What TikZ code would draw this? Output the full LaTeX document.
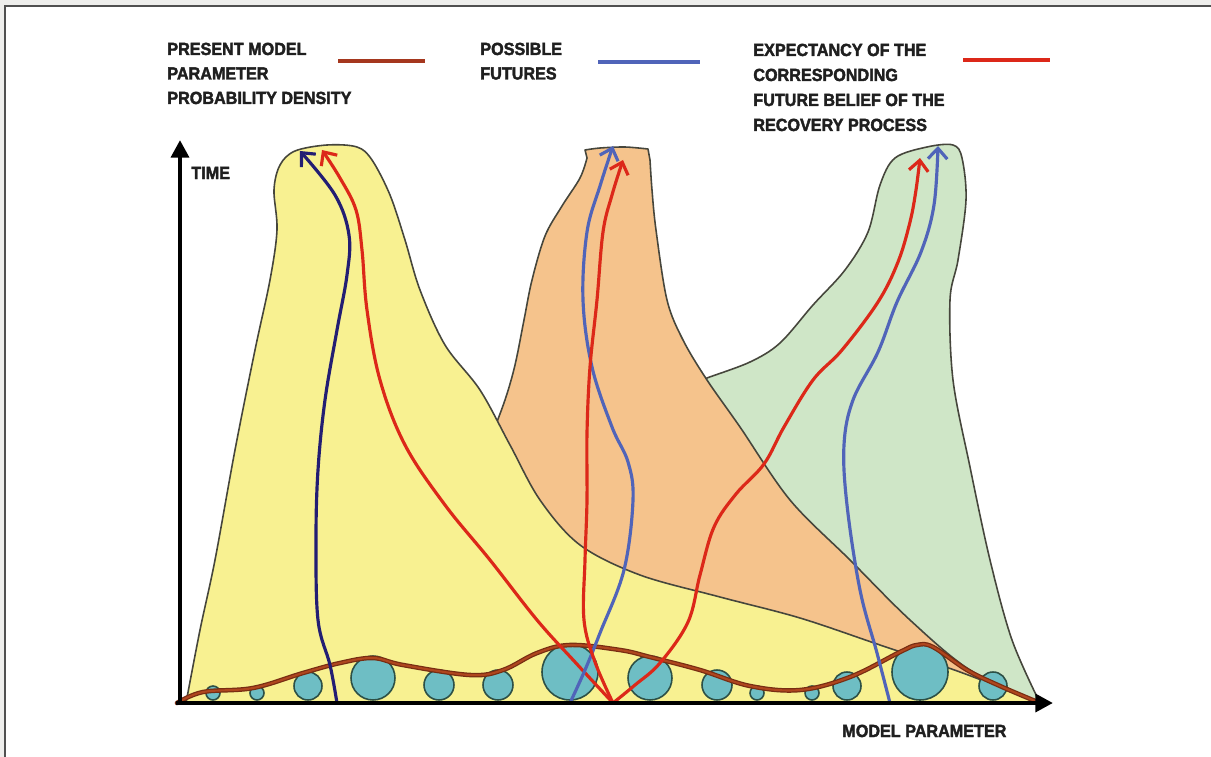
\documentclass[tikz,border=0pt]{standalone}
\usepackage{fontspec}
\setmainfont{Liberation Sans}[FakeStretch=0.92, BoldFeatures={FakeBold=2.2}]
\usetikzlibrary{arrows.meta}
\definecolor{frameG}{RGB}{238,238,236}
\definecolor{frameL}{RGB}{80,80,80}
\definecolor{yellowF}{RGB}{248,241,145}
\definecolor{orangeF}{RGB}{245,195,140}
\definecolor{greenF}{RGB}{207,230,199}
\definecolor{tealF}{RGB}{110,190,196}
\definecolor{tealL}{RGB}{45,80,70}
\definecolor{outl}{RGB}{70,70,60}
\definecolor{densD}{RGB}{120,45,18}
\definecolor{densC}{RGB}{175,70,30}
\definecolor{navyP}{RGB}{35,30,115}
\definecolor{blueP}{RGB}{80,100,185}
\definecolor{redP}{RGB}{220,40,25}
\definecolor{legBrown}{RGB}{165,55,30}
\tikzset{
  lbl/.style={font=\fontsize{10pt}{12pt}\selectfont\bfseries, inner sep=0pt, anchor=base west, text=black!88},
  shapeline/.style={draw=outl, line width=0.9pt, line join=round},
  bubble/.style={fill=tealF, draw=tealL, line width=0.9pt},
  axisline/.style={line width=2.5pt, black, -{Triangle[length=10pt,width=10pt]}},
  future/.style={line width=1.8pt, line cap=round, -{Straight Barb[length=6pt,width=11pt]}},
  legline/.style={line width=2.8pt}
}
\begin{document}
\begin{tikzpicture}[x=0.02cm,y=-0.02cm]
\useasboundingbox (0,0) rectangle (1211,757);
% frame
\fill[frameG] (0,0) rectangle (1211,757);
\fill[white] (5,6) rectangle (1211,757);
\draw[frameL, line width=1pt] (5,757) -- (5,6) -- (1211,6);

% coordinates
\coordinate (o) at (180,703);
\coordinate (ytip) at (180,140);
\coordinate (xstart) at (176,703);
\coordinate (xtip) at (1053,703);
\coordinate (fork) at (613,703);

% green shape (back)
\filldraw[fill=greenF, shapeline] plot[smooth, tension=0.55] coordinates {
 (690,385) (707,378) (750,362) (780,343) (813,305) (845,270) (868,232) (880,185)
 (895,158) (927,147) (953,145) (962,158) (966,200) (958,260) (950,300) (953,380)
 (970,467) (990,560) (1012,640) (1040,703)} -- (760,703) -- (680,420) -- cycle;

% orange shape
\filldraw[fill=orangeF, shapeline] plot[smooth, tension=0.55] coordinates {
 (490,440) (505,400) (515,365) (524,320) (532,280) (545,236) (562,206) (580,178)
 (587,158)} -- (585,150) -- plot[smooth, tension=0.5] coordinates {(585,150) (600,148) (625,147) (648,149)} -- (650,160) --
 plot[smooth, tension=0.55] coordinates {(650,160) (652,190) (656,230) (667,300) (683,340) (707,380)
 (740,427) (790,500) (850,560) (910,620) (970,670) (1040,703)} -- (560,703) -- (460,460) -- cycle;

% yellow shape (front)
\filldraw[fill=yellowF, shapeline] plot[smooth, tension=0.55] coordinates {
 (186,703) (200,630) (215,560) (235,450) (255,350) (270,280) (277,230) (274,190)
 (280,165) (295,151) (327,145) (357,147) (372,160) (390,195) (405,240) (420,290)
 (445,345) (480,390) (510,445) (540,500) (580,545) (640,575) (720,597) (800,618)
 (880,645) (960,672) (1040,703)} -- cycle;

% bubbles
\foreach \cx/\r in {213/7, 257/7, 308/14, 373/22, 439/15, 498/15, 570/28, 650/22,
                    717/15, 757/7, 812/7, 847/14, 920/28, 993/14}
  \draw[bubble] (\cx,700-\r) circle[radius=\r];

% density curve
\draw[densD, line width=2.6pt, line cap=round] plot[smooth, tension=0.6] coordinates {
 (177,703) (203,692) (253,688) (303,673) (340,663) (373,658) (403,665) (470,675)
 (503,670) (537,653) (570,645) (620,650) (650,657) (700,670) (750,686) (800,690)
 (850,677) (900,652) (917,645) (933,647) (967,670) (1000,686) (1040,703)};
\draw[densC, line width=1.2pt, line cap=round] plot[smooth, tension=0.6] coordinates {
 (177,703) (203,692) (253,688) (303,673) (340,663) (373,658) (403,665) (470,675)
 (503,670) (537,653) (570,645) (620,650) (650,657) (700,670) (750,686) (800,690)
 (850,677) (900,652) (917,645) (933,647) (967,670) (1000,686) (1040,703)};

% futures
\coordinate (nS) at (337,703); \coordinate (nE) at (300,151);
\coordinate (bmS) at (570,703); \coordinate (bmE) at (613,146);
\coordinate (brS) at (890,703); \coordinate (brE) at (938,146);
\coordinate (rlE) at (322,150); \coordinate (rmE) at (623,160); \coordinate (rrE) at (920,158);

\draw[future, navyP] plot[smooth, tension=0.6] coordinates {
 (nS) (330,665) (318,620) (316,540) (318,470) (325,400) (337,330) (347,275)
 (349,235) (335,195) (nE)};
\draw[future, redP] plot[smooth, tension=0.6] coordinates {
 (fork) (575,662) (537,620) (490,560) (445,505) (405,445) (380,380) (367,310)
 (362,250) (356,210) (340,178) (rlE)};
\draw[future, blueP] plot[smooth, tension=0.6] coordinates {
 (bmS) (585,670) (600,633) (624,570) (633,500) (628,462) (612,427) (592,367)
 (583,300) (587,232) (600,186) (bmE)};
\draw[future, redP] plot[smooth, tension=0.6] coordinates {
 (fork) (595,662) (584,620) (585,560) (587,500) (587,433) (590,367) (597,300)
 (603,232) (612,195) (rmE)};
\draw[future, redP] plot[smooth, tension=0.6] coordinates {
 (fork) (635,685) (660,663) (688,622) (700,575) (714,527) (736,494) (764,464)
 (784,427) (813,380) (842,350) (878,302) (898,262) (910,222) (916,190) (rrE)};
\draw[future, blueP] plot[smooth, tension=0.6] coordinates {
 (brS) (877,653) (860,590) (847,505) (844,445) (853,400) (878,352) (897,302)
 (921,252) (934,205) (brE)};

% axes
\draw[axisline] (o |- 0,705) -- (ytip);
\draw[axisline] (xstart) -- (xtip);

% axis labels
\node[lbl] (tLbl) at (191,179) {TIME};
\node[lbl] (xLbl) at (842,737) {MODEL PARAMETER};

% legend
\node[lbl] (la1) at (167,55) {PRESENT MODEL};
\node[lbl] (la2) at (167,79.5) {PARAMETER};
\node[lbl] (la3) at (167,104) {PROBABILITY DENSITY};
\coordinate (lA0) at (338,61); \coordinate (lA1) at (425,61);
\draw[legline, legBrown] (lA0) -- (lA1);

\node[lbl] (lb1) at (480,55) {POSSIBLE};
\node[lbl] (lb2) at (480,79.5) {FUTURES};
\coordinate (lB0) at (598,62); \coordinate (lB1) at (700,62);
\draw[legline, blueP] (lB0) -- (lB1);

\node[lbl] (lc1) at (753,56) {EXPECTANCY OF THE};
\node[lbl] (lc2) at (753,81) {CORRESPONDING};
\node[lbl] (lc3) at (753,106) {FUTURE BELIEF OF THE};
\node[lbl] (lc4) at (753,131) {RECOVERY PROCESS};
\coordinate (lC0) at (963,60); \coordinate (lC1) at (1050,60);
\draw[legline, redP] (lC0) -- (lC1);
\end{tikzpicture}
\end{document}
